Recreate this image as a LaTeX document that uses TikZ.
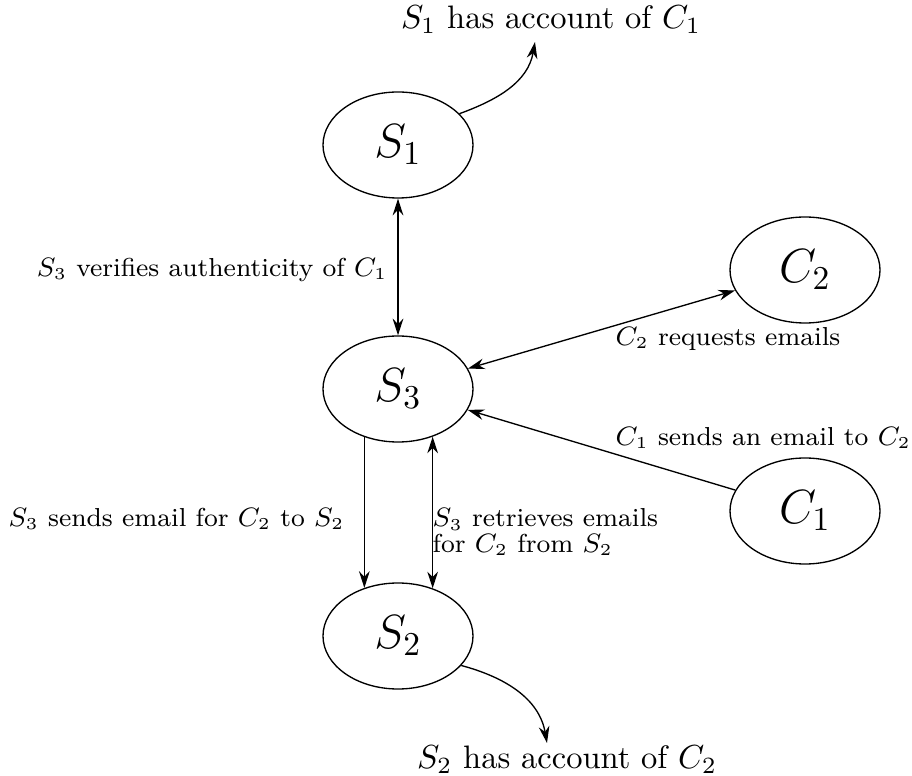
\documentclass[tikz,border=0pt]{standalone}
\usetikzlibrary{arrows.meta,shapes.geometric}
\begin{document}
\begin{tikzpicture}[x=0.3pt,y=-0.3pt,
  party/.style={draw,ellipse,minimum width=45pt,minimum height=31.8pt,inner sep=0pt,font=\Large},
  elabel/.style={inner sep=0pt,font=\fontsize{7.8}{7.6}\selectfont},
  tlabel/.style={inner sep=0pt,font=\fontsize{9.75}{11}\selectfont},
  arr/.style={-{Stealth[length=5pt,width=3.2pt]}},
  darr/.style={{Stealth[length=5pt,width=3.2pt]}-{Stealth[length=5pt,width=3.2pt]}}]
\useasboundingbox (0,0) rectangle (912,776);
\node[party] (S1) at (398,145) {$S_1$};
\node[party] (S3) at (398,389) {$S_3$};
\node[party] (S2) at (398,636) {$S_2$};
\node[party] (C2) at (805,270) {$C_2$};
\node[party] (C1) at (805,511) {$C_1$};
\node[tlabel] (t1) at (551,20) {$S_1$ has account of $C_1$};
\node[tlabel] (t2) at (567,760) {$S_2$ has account of $C_2$};
\coordinate (t1end) at (535,42);
\coordinate (t2end) at (547,743);
\draw[arr] (S1.27) to[out=20,in=-100] (t1end);
\draw[arr] (S2.-25) to[out=-15,in=100] (t2end);
\draw[darr] (S1) -- (S3);
\node[elabel,anchor=east] (l1) at (388,270) {$S_3$ verifies authenticity of $C_1$};
\draw[arr] (S3.-125) -- (S2.125);
\draw[darr] (S3.-54) -- (S2.54);
\node[elabel,anchor=east] (l2) at (345,519) {$S_3$ sends email for $C_2$ to $S_2$};
\node[elabel,anchor=west,align=left] (l3) at (432,532) {$S_3$ retrieves emails\\for $C_2$ from $S_2$};
\draw[darr] (S3) -- (C2);
\draw[arr] (C1) -- (S3);
\node[elabel,anchor=west] (l4) at (615,339) {$C_2$ requests emails};
\node[elabel,anchor=west] (l5) at (615,438) {$C_1$ sends an email to $C_2$};
\end{tikzpicture}
\end{document}
